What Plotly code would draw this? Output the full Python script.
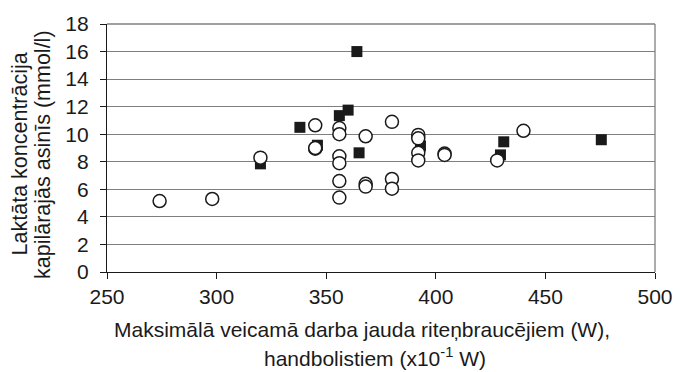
import plotly.graph_objects as go

# Data (x: max power, y: lactate mmol/l)
cyclists_x = [364, 360, 356, 338, 346, 365, 320, 393, 431, 429.5, 475.5]
cyclists_y = [16.0, 11.75, 11.35, 10.5, 9.2, 8.65, 7.85, 9.15, 9.45, 8.5, 9.6]

handball_x = [274, 298, 320, 345, 345, 345, 356, 356, 356, 356, 356, 356,
              368, 368, 368, 380, 380, 380, 392, 392, 392, 392, 404, 404, 428, 440]
handball_y = [5.15, 5.3, 8.3, 10.65, 8.95, 9.0, 10.45, 10.0, 8.4, 7.9, 6.6, 5.4,
              9.85, 6.4, 6.2, 10.9, 6.75, 6.05, 9.95, 9.7, 8.65, 8.1, 8.6, 8.5, 8.1, 10.25]

x_ticks = [250, 300, 350, 400, 450, 500]
y_ticks = [0, 2, 4, 6, 8, 10, 12, 14, 16, 18]

FONT = "Liberation Sans, Arial, sans-serif"

fig = go.Figure()
fig.add_trace(go.Scatter(
    x=cyclists_x, y=cyclists_y, mode="markers",
    marker=dict(symbol="square", size=11, color="#1a1a1a", line=dict(width=0)),
    showlegend=False, cliponaxis=False))
fig.add_trace(go.Scatter(
    x=handball_x, y=handball_y, mode="markers",
    marker=dict(symbol="circle", size=13, color="white", line=dict(width=1.5, color="#1a1a1a")),
    showlegend=False, cliponaxis=False))

L, R, T, B = 106.5, 19, 19, 99.5
W, H = 685, 372

fig.update_layout(
    width=W, height=H,
    margin=dict(l=L, r=R, t=T, b=B, pad=0),
    paper_bgcolor="white", plot_bgcolor="white",
    font=dict(family=FONT, size=21, color="#1a1a1a"),
    xaxis=dict(range=[250, 500], tickvals=x_ticks, ticktext=[str(v) for v in x_ticks],
               showgrid=False, zeroline=False, showline=True, linecolor="#1a1a1a", linewidth=1.3,
               ticks="outside", ticklen=6, tickcolor="#1a1a1a", tickwidth=1,
               tickfont=dict(size=21, family=FONT)),
    yaxis=dict(range=[0, 18], tickvals=y_ticks, ticktext=[str(v) for v in y_ticks],
               showgrid=True, gridcolor="#7f7f7f", gridwidth=1, zeroline=False,
               showline=True, linecolor="#1a1a1a", linewidth=1.3,
               ticks="outside", ticklen=6, tickcolor="#1a1a1a", tickwidth=1,
               ticklabelstandoff=7,
               tickfont=dict(size=21, family=FONT)),
    shapes=[
        dict(type="line", xref="paper", yref="paper", x0=0, x1=1, y0=1, y1=1,
             line=dict(color="#7f7f7f", width=1.3), layer="below"),
        dict(type="line", xref="paper", yref="paper", x0=1, x1=1, y0=0, y1=1,
             line=dict(color="#7f7f7f", width=1.3), layer="below"),
    ],
)

pw = W - L - R
ph = H - T - B

def px_x(px):
    return (px - L) / pw

def px_y(py):
    return (H - B - py) / ph

annotations = [
    dict(text="Maksimālā veicamā darba jauda riteņbraucējiem (W),",
         x=px_x(367), y=px_y(331), xref="paper", yref="paper",
         showarrow=False, xanchor="center", yanchor="middle",
         font=dict(size=21, family=FONT)),
    dict(text="handbolistiem (x10<sup>-1</sup> W)",
         x=px_x(380), y=px_y(359), xref="paper", yref="paper",
         showarrow=False, xanchor="center", yanchor="middle",
         font=dict(size=21, family=FONT)),
    dict(text="Laktāta koncentrācija",
         x=px_x(18), y=px_y(152), xref="paper", yref="paper",
         showarrow=False, xanchor="center", yanchor="middle", textangle=-90,
         font=dict(size=21.5, family=FONT)),
    dict(text="kapilārajās asinīs (mmol/l)",
         x=px_x(41), y=px_y(152), xref="paper", yref="paper",
         showarrow=False, xanchor="center", yanchor="middle", textangle=-90,
         font=dict(size=21.5, family=FONT)),
]
fig.update_layout(annotations=annotations)

fig.write_html("out.html")
